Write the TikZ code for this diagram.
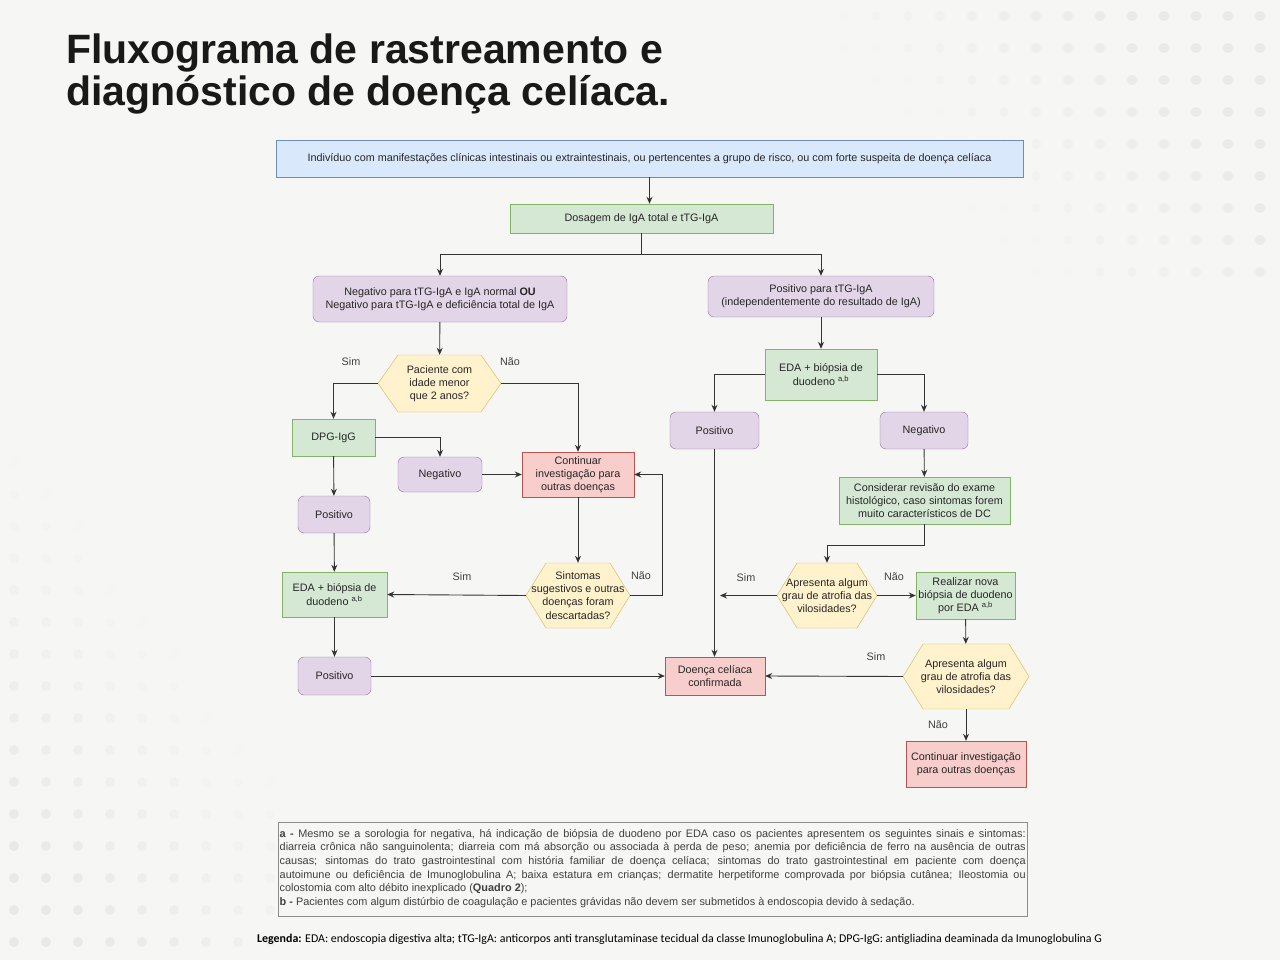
\documentclass[tikz,border=0pt]{standalone}
\usepackage{fontspec}
\setmainfont{Liberation Sans}
\newfontfamily\titlefont{Liberation Sans}
\newfontfamily\legfont{Carlito}
\usetikzlibrary{arrows.meta}
\definecolor{bg}{HTML}{F6F6F4}
\definecolor{dotc}{HTML}{E9E9E7}
\definecolor{bfill}{HTML}{DAE8FC}\definecolor{bdraw}{HTML}{6C8EBF}
\definecolor{gfill}{HTML}{D5E8D4}\definecolor{gdraw}{HTML}{82B366}
\definecolor{pfill}{HTML}{E1D5E7}\definecolor{pdraw}{HTML}{9673A6}
\definecolor{yfill}{HTML}{FFF2CC}\definecolor{ydraw}{HTML}{D6B656}
\definecolor{rfill}{HTML}{F8CECC}\definecolor{rdraw}{HTML}{B85450}
\definecolor{lc}{HTML}{333333}
\tikzset{
 base/.style={inner sep=1pt,align=center,font=\fontsize{10.8}{13.2}\selectfont,text=black!85},
 bluebox/.style={base,draw=bdraw,fill=bfill},
 greenbox/.style={base,draw=gdraw,fill=gfill},
 purplebox/.style={base,draw=pdraw,fill=pfill,rounded corners=6pt},
 redbox/.style={base,draw=rdraw,fill=rfill},
 conn/.style={draw=lc,line width=0.9pt,-{Stealth[length=7pt,width=6pt]}},
 lbl/.style={font=\fontsize{10.8}{13}\selectfont,text=black!75}
}
\newcommand{\hexa}[6]{%
 \fill[yfill,draw=ydraw] (#2-#4/2,#3) -- (#2-#4/2+20,#3-#5/2) -- (#2+#4/2-20,#3-#5/2) -- (#2+#4/2,#3) -- (#2+#4/2-20,#3+#5/2) -- (#2-#4/2+20,#3+#5/2) -- cycle;
 \node[base,minimum width=#4pt,minimum height=#5pt,inner sep=0pt] (#1) at (#2,#3) {#6};}
\begin{document}
\begin{tikzpicture}[x=1pt,y=-1pt]
\fill[bg] (0,0) rectangle (1280,960);
\useasboundingbox (0,0) rectangle (1280,960);
% dots
\foreach \i in {0,...,14}{\foreach \j in {0,...,8}{
 \pgfmathsetmacro\op{max(0,min(1,(\i/14)*1.3-(\j/8)*0.6))}
 \fill[dotc,opacity=\op] (812+\i*32,16+\j*32) circle (5);}}
\foreach \i in {0,...,8}{\foreach \j in {0,...,16}{
 \pgfmathsetmacro\op{max(0,min(1,(\j/16)*1.2-(\i/8)*0.8))}
 \fill[dotc,opacity=\op] (14+\i*32,430+\j*32) circle (5);}}
% title
\node[anchor=north west,align=left,inner sep=0pt,text=black!90,font=\titlefont\bfseries\fontsize{41}{42}\selectfont] (title) at (66,34) {Fluxograma de rastreamento e\\diagnóstico de doença celíaca.};
% nodes
\node[bluebox,minimum width=747pt,minimum height=37pt] (top) at (649.5,158.5) {Indivíduo com manifestações clínicas intestinais ou extraintestinais, ou pertencentes a grupo de risco, ou com forte suspeita de doença celíaca};
\node[greenbox,minimum width=263pt,minimum height=29pt] (dos) at (641.5,218.5) {Dosagem de IgA total e tTG-IgA};
\node[purplebox,minimum width=254pt,minimum height=46pt] (neg) at (440,299) {Negativo para tTG-IgA e IgA normal \textbf{OU}\\Negativo para tTG-IgA e deficiência total de IgA};
\node[purplebox,minimum width=226pt,minimum height=41pt] (pos) at (821,296.5) {Positivo para tTG-IgA\\(independentemente do resultado de IgA)};
\hexa{hexa1}{439.5}{383.5}{123}{57}{Paciente com\\idade menor\\que 2 anos?}
\node[greenbox,minimum width=112pt,minimum height=51pt] (eda1) at (821,374.5) {EDA + biópsia de\\duodeno \textsuperscript{a,b}};
\node[greenbox,minimum width=83pt,minimum height=37pt] (dpg) at (333.5,437.5) {DPG-IgG};
\node[purplebox,minimum width=84pt,minimum height=35pt] (negA) at (440,474.5) {Negativo};
\node[redbox,minimum width=112pt,minimum height=45pt] (cont1) at (578,474.5) {Continuar\\investigação para\\outras doenças};
\node[purplebox,minimum width=89pt,minimum height=37pt] (posR) at (714.5,430.5) {Positivo};
\node[purplebox,minimum width=88pt,minimum height=37pt] (negR) at (924,430.5) {Negativo};
\node[greenbox,minimum width=171pt,minimum height=47pt] (cons) at (924.5,500.5) {Considerar revisão do exame\\histológico, caso sintomas forem\\muito característicos de DC};
\node[purplebox,minimum width=72pt,minimum height=37pt] (pos1) at (334,514.5) {Positivo};
\hexa{hexa2}{578}{595.5}{104}{65}{Sintomas\\sugestivos e outras\\doenças foram\\descartadas?}
\node[greenbox,minimum width=105pt,minimum height=45pt] (eda2) at (334.5,594.5) {EDA + biópsia de\\duodeno \textsuperscript{a,b}};
\hexa{hexa3}{827}{595.5}{100}{65}{Apresenta algum\\grau de atrofia das\\vilosidades?}
\node[greenbox,minimum width=99pt,minimum height=47pt] (realiz) at (965.5,595.5) {Realizar nova\\biópsia de duodeno\\por EDA \textsuperscript{a,b}};
\node[purplebox,minimum width=73pt,minimum height=38pt] (pos2) at (334.5,676) {Positivo};
\node[redbox,minimum width=100pt,minimum height=38pt] (doenca) at (715,676) {Doença celíaca\\confirmada};
\hexa{hexa4}{966}{676.5}{126}{65}{Apresenta algum\\grau de atrofia das\\vilosidades?}
\node[redbox,minimum width=120pt,minimum height=46pt] (cont2) at (966,764) {Continuar investigação\\para outras doenças};
% connectors
\draw[conn] (top.south -| 649.5,0) -- (dos.north -| 649.5,0);
\draw[conn] (dos.south) |- (440,254) -- (neg.north);
\draw[conn] (dos.south) |- (821,254) -- (pos.north);
\draw[conn] (neg) -- (hexa1);
\draw[conn] (hexa1.west) -| (dpg.north);
\draw[conn] (hexa1.east) -| (cont1.north);
\draw[conn] (dpg.east) -| (negA.north);
\draw[conn] (dpg) -- (pos1);
\draw[conn] (negA) -- (cont1);
\draw[conn] (cont1) -- (hexa2);
\draw[conn] (hexa2.west) -- (eda2.east);
\draw[conn] (hexa2.east) -- (662,595.5) |- (cont1.east);
\draw[conn] (pos1) -- (eda2);
\draw[conn] (eda2) -- (pos2);
\draw[conn] (pos2) -- (doenca);
\draw[conn] (pos) -- (eda1);
\draw[conn] (eda1.west) -| (posR.north);
\draw[conn] (eda1.east) -| (negR.north);
\draw[conn] (posR.south) -- (doenca.north -| posR.south);
\draw[conn] (negR) -- (cons);
\draw[conn] (cons.south) -- (924.5,545) -| (hexa3.north);
\coordinate (freeL) at (720,595.5);
\draw[conn] (hexa3.west) -- (freeL);
\draw[conn] (hexa3.east) -- (realiz.west);
\draw[conn] (realiz) -- (hexa4);
\draw[conn] (hexa4.west) -- (doenca.east);
\draw[conn] (hexa4) -- (cont2);
% labels
\node[lbl] (l1) at (351,362) {Sim};
\node[lbl] (l2) at (510,362) {Não};
\node[lbl] (l3) at (462,577) {Sim};
\node[lbl] (l4) at (641,576) {Não};
\node[lbl] (l5) at (746,578) {Sim};
\node[lbl] (l6) at (894,577) {Não};
\node[lbl] (l7) at (876,657) {Sim};
\node[lbl] (l8) at (938,725) {Não};
% note
\draw[black!45,line width=0.9pt,fill=bg] (278,822) rectangle (1027,916);
\node[anchor=north west,inner sep=0pt,text width=746pt,align=justify,font=\fontsize{10.9}{13.6}\selectfont,text=black!75] (note) at (279.5,829) {%
\textbf{a -} Mesmo se a sorologia for negativa, há indicação de biópsia de duodeno por EDA caso os pacientes apresentem os seguintes sinais e sintomas:\linebreak
diarreia crônica não sanguinolenta; diarreia com má absorção ou associada à perda de peso; anemia por deficiência de ferro na ausência de outras\linebreak
causas; sintomas do trato gastrointestinal com história familiar de doença celíaca; sintomas do trato gastrointestinal em paciente com doença\linebreak
autoimune ou deficiência de Imunoglobulina A; baixa estatura em crianças; dermatite herpetiforme comprovada por biópsia cutânea; Ileostomia ou\linebreak
colostomia com alto débito inexplicado (\textbf{Quadro 2});\\
\textbf{b -} Pacientes com algum distúrbio de coagulação e pacientes grávidas não devem ser submetidos à endoscopia devido à sedação.};
\node[anchor=west,inner sep=0pt,font=\legfont\fontsize{11.9}{13}\selectfont] (leg) at (257,939) {\textbf{Legenda:} EDA: endoscopia digestiva alta; tTG-IgA: anticorpos anti transglutaminase tecidual da classe Imunoglobulina A; DPG-IgG: antigliadina deaminada da Imunoglobulina G};
\end{tikzpicture}
\end{document}
